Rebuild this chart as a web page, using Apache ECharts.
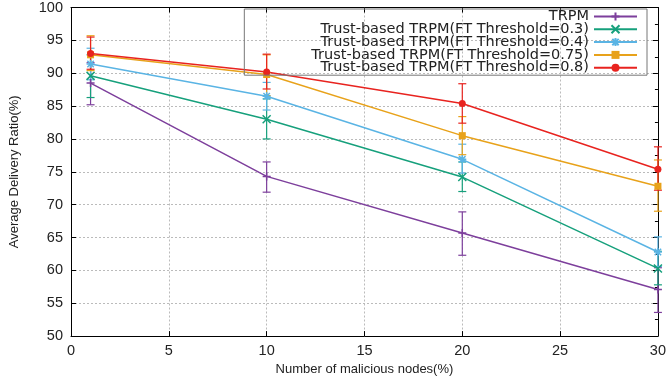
<!DOCTYPE html>
<html><head><meta charset="utf-8">
<script src="https://cdn.jsdelivr.net/npm/echarts@6/dist/echarts.min.js"></script>
<style>html,body{margin:0;padding:0;background:#fff}#c{width:669px;height:381px}</style>
</head><body><div id="c"></div>
<script>
const xValues = [1, 10, 20, 30];
const seriesNames = ['TRPM', 'Trust-based TRPM(FT Threshold=0.3)', 'Trust-based TRPM(FT Threshold=0.4)', 'Trust-based TRPM(FT Threshold=0.75)', 'Trust-based TRPM(FT Threshold=0.8)'];
const trpm  = [88.5, 74.3, 65.7, 57.1];
const ft03  = [89.6, 83.0, 74.2, 60.3];
const ft04  = [91.4, 86.5, 76.9, 62.8];
const ft075 = [92.8, 89.8, 80.5, 72.8];
const ft08  = [93.0, 90.2, 85.4, 75.4];
const trpmLow  = [85.2, 71.9, 62.3, 53.6];
const trpmHigh = [91.6, 76.5, 68.9, 60.4];
const ft03Low  = [86.3, 80.0, 72.0, 57.8];
const ft03High = [92.8, 86.1, 76.5, 62.9];
const ft04Low  = [89.0, 84.4, 74.8, 60.6];
const ft04High = [93.8, 88.6, 79.2, 65.1];
const ft075Low  = [90.4, 86.6, 77.6, 69.0];
const ft075High = [95.7, 92.8, 83.4, 76.8];
const ft08Low  = [90.6, 87.6, 82.4, 72.2];
const ft08High = [95.5, 92.9, 88.4, 78.8];

const colors = ['#7d3f9c', '#16a07c', '#5ab4e4', '#e8a21a', '#e8231f'];
const symbols = [
  'path://M5,0L5,10M0,5L10,5',
  'path://M0,0L10,10M10,0L0,10',
  'path://M5,0L5,10M0,5L10,5M1,1L9,9M9,1L1,9',
  'rect',
  'circle'
];
const values = [trpm, ft03, ft04, ft075, ft08];
const lows = [trpmLow, ft03Low, ft04Low, ft075Low, ft08Low];
const highs = [trpmHigh, ft03High, ft04High, ft075High, ft08High];

const series = [];
values.forEach((vals, i) => {
  series.push({
    name: 'err' + i,
    type: 'custom',
    z: 2,
    data: xValues.map((x, k) => [x, lows[i][k], highs[i][k]]),
    renderItem: function (params, api) {
      const lo = api.coord([api.value(0), api.value(1)]);
      const hi = api.coord([api.value(0), api.value(2)]);
      const cw = 4;
      const st = { stroke: colors[i], lineWidth: 1.2 };
      return { type: 'group', children: [
        { type: 'line', shape: { x1: lo[0], y1: lo[1], x2: hi[0], y2: hi[1] }, style: st },
        { type: 'line', shape: { x1: lo[0] - cw, y1: lo[1], x2: lo[0] + cw, y2: lo[1] }, style: st },
        { type: 'line', shape: { x1: hi[0] - cw, y1: hi[1], x2: hi[0] + cw, y2: hi[1] }, style: st }
      ]};
    },
    silent: true
  });
});
values.forEach((vals, i) => {
  series.push({
    name: seriesNames[i],
    type: 'line',
    z: 3,
    data: xValues.map((x, k) => [x, vals[k]]),
    symbol: symbols[i],
    symbolSize: i >= 3 ? 7 : 8,
    showAllSymbol: true,
    lineStyle: { color: colors[i], width: 1.5 },
    itemStyle: { color: colors[i], borderColor: colors[i], borderWidth: i >= 3 ? 0 : 1.5 },
    emphasis: { disabled: true },
    animation: false
  });
});

const chart = echarts.init(document.getElementById('c'), null, { renderer: 'canvas' });
const gridLine = { show: true, lineStyle: { color: '#bbbbbb', type: [2, 2], width: 1 } };
chart.setOption({
  animation: false,
  backgroundColor: '#ffffff',
  color: colors,
  textStyle: { fontFamily: 'Liberation Sans, Arial, sans-serif' },
  grid: { left: 68, right: 10, top: 7, bottom: 41, containLabel: false },
  legend: {
    data: seriesNames,
    orient: 'vertical',
    align: 'right',
    right: 22,
    top: 9,
    itemWidth: 43,
    itemHeight: 10,
    itemGap: -2.2,
    padding: [0, 9, 0, 67],
    backgroundColor: 'transparent',
    borderColor: '#777777',
    borderWidth: 1,
    textStyle: { fontSize: 14.5, color: '#222222', fontFamily: 'DejaVu Sans, sans-serif' },
    selectedMode: false
  },
  xAxis: [{
    type: 'value', min: 0, max: 30, interval: 5,
    name: 'Number of malicious nodes(%)', nameLocation: 'middle', nameGap: 23,
    nameTextStyle: { fontSize: 13, color: '#222222' },
    axisLine: { show: true, onZero: false, lineStyle: { color: '#000', width: 1 } },
    axisTick: { show: true, inside: true, length: 5, lineStyle: { color: '#000' } },
    axisLabel: { fontSize: 14.5, color: '#222222', margin: 7 },
    splitLine: gridLine
  }, {
    type: 'value', min: 0, max: 30, interval: 5, position: 'top',
    axisLine: { show: true, onZero: false, lineStyle: { color: '#000', width: 1 } },
    axisTick: { show: true, inside: true, length: 5, lineStyle: { color: '#000' } },
    axisLabel: { show: false }, splitLine: { show: false }
  }],
  yAxis: [{
    type: 'value', min: 50, max: 100, interval: 5,
    name: 'Average Delivery Ratio(%)', nameLocation: 'middle', nameGap: 50,
    nameTextStyle: { fontSize: 13, color: '#222222' },
    axisLine: { show: true, onZero: false, lineStyle: { color: '#000', width: 1 } },
    axisTick: { show: true, inside: true, length: 5, lineStyle: { color: '#000' } },
    axisLabel: { fontSize: 14.5, color: '#222222', margin: 8 },
    splitLine: gridLine
  }, {
    type: 'value', min: 50, max: 100, interval: 5, position: 'right',
    axisLine: { show: true, onZero: false, lineStyle: { color: '#000', width: 1 } },
    axisTick: { show: true, inside: true, length: 5, lineStyle: { color: '#000' } },
    minorTick: { show: true, splitNumber: 2, length: 3, lineStyle: { color: '#000' } },
    axisLabel: { show: false }, splitLine: { show: false }
  }],
  series: series
});
</script>
</body></html>
